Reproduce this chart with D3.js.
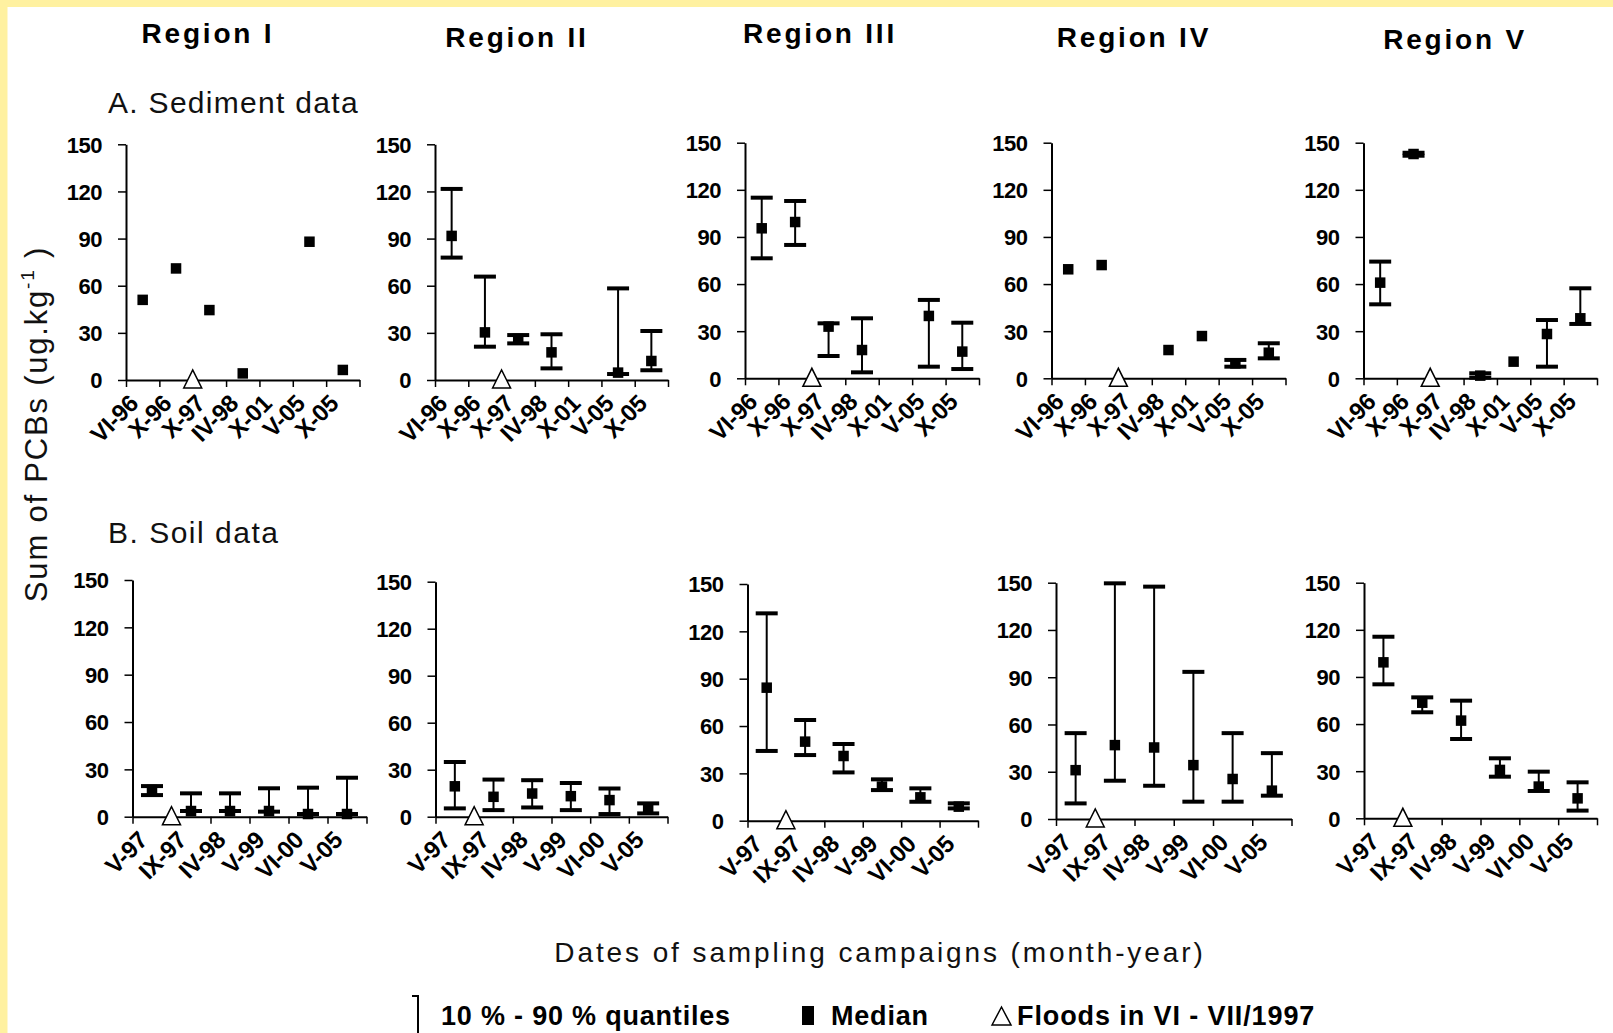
<!DOCTYPE html>
<html>
<head>
  <meta charset="utf-8">
  <script src="https://cdn.jsdelivr.net/npm/d3@7"></script>
  <style>
    body { margin: 0; background: #fff; }
    text { font-family: "Liberation Sans", Arial, sans-serif; }
  </style>
</head>
<body>
<script>
// --- data ---
var regionNames = ["Region I", "Region II", "Region III", "Region IV", "Region V"];
var sedDates = ["VI-96", "X-96", "X-97", "IV-98", "X-01", "V-05", "X-05"];
var soilDates = ["V-97", "IX-97", "IV-98", "V-99", "VI-00", "V-05"];
var yTicks = [0, 30, 60, 90, 120, 150];

// sediment, one row per region (null = no sample)
var sedMedian = [
  [51, 71, 44.5, 4.2, null, 88, 6.4],
  [91.7, 30.3, 26.1, 17.6, null, 4.7, 12.1],
  [95.5, 99.5, 32.9, 18, null, 39.7, 17],
  [69.4, 72.1, null, 18, 26.9, 9.5, 16.3],
  [60.9, 142.8, null, 1.7, 10.6, 28.2, 38.2]
];
var sedQ10 = [
  [null, null, null, null, null, null, null],
  [77.9, 21.2, 23.3, 7.4, null, 3.8, 6.2],
  [76.4, 84.9, 14.2, 3.8, null, 7.4, 5.9],
  [null, null, null, null, null, 7.4, 12.7],
  [47.1, 141.7, null, 0.4, null, 7.4, 34.6]
];
var sedQ90 = [
  [null, null, null, null, null, null, null],
  [121.6, 65.8, 28.6, 29.1, null, 58.3, 31.2],
  [115, 112.9, 35, 38.2, null, 49.9, 35.4],
  [null, null, null, null, null, 11.7, 22.3],
  [74.3, 143.6, null, 3.2, null, 37.1, 57.3]
];

// soil
var soilMedian = [
  [16.9, 3.6, 3.6, 3.6, 1.7, 1.7],
  [19.4, 12.7, 14.8, 13.1, 10.6, 5.3],
  [84.3, 50.1, 41, 21.6, 14.8, 8.9],
  [31, 46.9, 45.4, 34.2, 25.4, 18],
  [99.3, 73.6, 62.2, 30.8, 20.2, 12.7]
];
var soilQ10 = [
  [13.7, 3.6, 3.6, 3.2, 1.7, 1.7],
  [5.3, 4.2, 5.9, 4.2, 1.7, 2.1],
  [44.2, 41.6, 30.6, 19.4, 12, 7.8],
  [9.9, 24.3, 21.1, 11, 11, 14.8],
  [85.3, 67.5, 50.5, 26.5, 17.4, 4.9]
];
var soilQ90 = [
  [19.4, 14.8, 14.8, 18, 18.4, 24.7],
  [34.9, 23.7, 23.3, 21.5, 18, 8.5],
  [131.4, 63.8, 48.6, 26.2, 20.5, 11],
  [54.5, 149.6, 147.5, 93.4, 54.5, 41.8],
  [115.6, 77, 74.9, 38.2, 29.7, 22.9]
];

// flood (VI-VII/1997) marker sits at the right edge of this campaign
var floodSed = "X-96";
var floodSoil = "V-97";

// --- layout ---
var width = 1613, height = 1033;
var topPanels = [
  {x: 126, w: 233.5, y0: 380, y1: 144.3},
  {x: 435, w: 233, y0: 380, y1: 144.3},
  {x: 745, w: 234, y0: 378.3, y1: 142.7},
  {x: 1051.5, w: 234, y0: 378.3, y1: 142.7},
  {x: 1363.5, w: 233.5, y0: 378.3, y1: 142.7}
];
var botPanels = [
  {x: 132.5, w: 234, y0: 816.7, y1: 580},
  {x: 435.5, w: 232, y0: 816.7, y1: 581.7},
  {x: 747.5, w: 230.5, y0: 820.7, y1: 584},
  {x: 1056, w: 235.5, y0: 819, y1: 582.7},
  {x: 1364, w: 233, y0: 818.3, y1: 582.7}
];

var svg = d3.select("body").append("svg")
  .attr("width", width)
  .attr("height", height);

svg.append("rect").attr("width", width).attr("height", height).attr("fill", "#fff1a0");
svg.append("rect").attr("x", 7.5).attr("y", 7).attr("width", width).attr("height", height).attr("fill", "#fff");

function drawPanel(p, dates, med, q10, q90, flood) {
  var g = svg.append("g");
  var x = d3.scaleBand().domain(dates).range([p.x, p.x + p.w]);
  var xi = d3.scaleLinear().domain([0, dates.length]).range([p.x, p.x + p.w]);
  var y = d3.scaleLinear().domain([0, 150]).range([p.y0, p.y1]);

  // y axis
  var ya = g.append("g")
    .attr("transform", "translate(" + p.x + ",0)")
    .call(d3.axisLeft(y).tickValues(yTicks).tickSize(8).tickSizeOuter(0).tickPadding(16));
  ya.select(".domain").attr("stroke-width", 2);
  ya.selectAll(".tick line").attr("stroke-width", 1.5);
  ya.selectAll("text")
    .style("font-size", "22px")
    .style("font-weight", "bold")
    .style("letter-spacing", "-0.5px")
    .attr("dy", "0.36em");

  // x axis line + ticks at campaign boundaries
  var xa = g.append("g")
    .attr("transform", "translate(0," + p.y0 + ")")
    .call(d3.axisBottom(xi).tickValues(d3.range(dates.length + 1)).tickSize(7).tickSizeOuter(0).tickFormat(""));
  xa.select(".domain").attr("stroke-width", 2);
  xa.selectAll(".tick line").attr("stroke-width", 1.5);

  // rotated campaign labels
  g.append("g")
    .attr("transform", "translate(0," + p.y0 + ")")
    .call(d3.axisBottom(x).tickSize(0))
    .call(function (a) { a.select(".domain").remove(); })
    .selectAll("text")
      .attr("x", 0).attr("y", 0).attr("dy", null)
      .attr("transform", "translate(-3,25) rotate(-45)")
      .attr("text-anchor", "end")
      .style("font-size", "24px")
      .style("font-weight", "bold")
      .style("letter-spacing", "-0.4px");

  var rows = dates.map(function (d, i) {
    return {date: d, med: med[i], lo: q10[i], hi: q90[i]};
  });
  var cx = function (d) { return x(d.date) + x.bandwidth() / 2; };

  // 10-90 % quantile bars
  var bars = rows.filter(function (d) { return d.hi != null; });
  g.selectAll(".whisker").data(bars).enter().append("line")
    .attr("x1", cx).attr("x2", cx)
    .attr("y1", function (d) { return y(d.lo); })
    .attr("y2", function (d) { return y(d.hi); })
    .attr("stroke", "#000").attr("stroke-width", 2);
  g.selectAll(".capHi").data(bars).enter().append("line")
    .attr("x1", function (d) { return cx(d) - 11; })
    .attr("x2", function (d) { return cx(d) + 11; })
    .attr("y1", function (d) { return y(d.hi); })
    .attr("y2", function (d) { return y(d.hi); })
    .attr("stroke", "#000").attr("stroke-width", 4);
  g.selectAll(".capLo").data(bars).enter().append("line")
    .attr("x1", function (d) { return cx(d) - 11; })
    .attr("x2", function (d) { return cx(d) + 11; })
    .attr("y1", function (d) { return y(d.lo); })
    .attr("y2", function (d) { return y(d.lo); })
    .attr("stroke", "#000").attr("stroke-width", 4);

  // medians
  var ms = 10.5;
  g.selectAll(".median").data(rows.filter(function (d) { return d.med != null; })).enter().append("rect")
    .attr("x", function (d) { return cx(d) - ms / 2; })
    .attr("y", function (d) { return y(d.med) - ms / 2; })
    .attr("width", ms).attr("height", ms)
    .attr("fill", "#000");

  // flood marker
  var fx = x(flood) + x.bandwidth();
  var fy = y(0);
  g.append("path")
    .attr("d", d3.line()([[fx - 9, fy + 8], [fx, fy - 10], [fx + 9, fy + 8]]) + "Z")
    .attr("fill", "#fff").attr("stroke", "#000").attr("stroke-width", 1.5);
}

regionNames.forEach(function (r, i) {
  drawPanel(topPanels[i], sedDates, sedMedian[i], sedQ10[i], sedQ90[i], floodSed);
  drawPanel(botPanels[i], soilDates, soilMedian[i], soilQ10[i], soilQ90[i], floodSoil);
});

// region titles
var titlePos = [[208, 42.7], [517, 46.7], [820, 42.7], [1134, 46.7], [1455, 49.3]];
svg.selectAll(".regionTitle").data(regionNames).enter().append("text")
  .attr("x", function (d, i) { return titlePos[i][0]; })
  .attr("y", function (d, i) { return titlePos[i][1]; })
  .attr("text-anchor", "middle")
  .style("font-size", "28px")
  .style("font-weight", "bold")
  .style("letter-spacing", "2.8px")
  .text(function (d) { return d; });

// section labels
svg.append("text").attr("x", 108).attr("y", 112.5)
  .style("font-size", "30px").style("letter-spacing", "1.3px").attr("fill", "#111")
  .text("A. Sediment data");
svg.append("text").attr("x", 108).attr("y", 542.5)
  .style("font-size", "30px").style("letter-spacing", "1.5px").attr("fill", "#111")
  .text("B. Soil data");

// y title
var yt = svg.append("text")
  .attr("transform", "translate(47,424) rotate(-90)")
  .attr("text-anchor", "middle")
  .style("font-size", "31px").style("letter-spacing", "1.8px").attr("fill", "#111");
yt.append("tspan").text("Sum of PCBs (ug.kg");
yt.append("tspan").attr("dy", -13).style("font-size", "19px").text("-1");
yt.append("tspan").attr("dy", 13).text(" )");

// x title
svg.append("text").attr("x", 880).attr("y", 962)
  .attr("text-anchor", "middle")
  .style("font-size", "28px").style("letter-spacing", "2.9px").attr("fill", "#111")
  .text("Dates of sampling campaigns (month-year)");

// legend
var lg = svg.append("g").style("font-size", "27px").style("font-weight", "bold");
lg.append("line").attr("x1", 418).attr("x2", 418).attr("y1", 996).attr("y2", 1033)
  .attr("stroke", "#000").attr("stroke-width", 2);
lg.append("line").attr("x1", 412).attr("x2", 419).attr("y1", 996).attr("y2", 996)
  .attr("stroke", "#000").attr("stroke-width", 2);
lg.append("text").attr("x", 441).attr("y", 1025).style("letter-spacing", "0.8px").text("10 % - 90 % quantiles");
lg.append("rect").attr("x", 802).attr("y", 1006).attr("width", 12).attr("height", 19).attr("fill", "#000");
lg.append("text").attr("x", 831).attr("y", 1025).style("letter-spacing", "0.8px").text("Median");
lg.append("path").attr("d", d3.line()([[992, 1025], [1001.5, 1007], [1011, 1025]]) + "Z")
  .attr("fill", "none").attr("stroke", "#000").attr("stroke-width", 1.5);
lg.append("text").attr("x", 1017).attr("y", 1025).style("letter-spacing", "0.9px").text("Floods in VI - VII/1997");
</script>
</body>
</html>
